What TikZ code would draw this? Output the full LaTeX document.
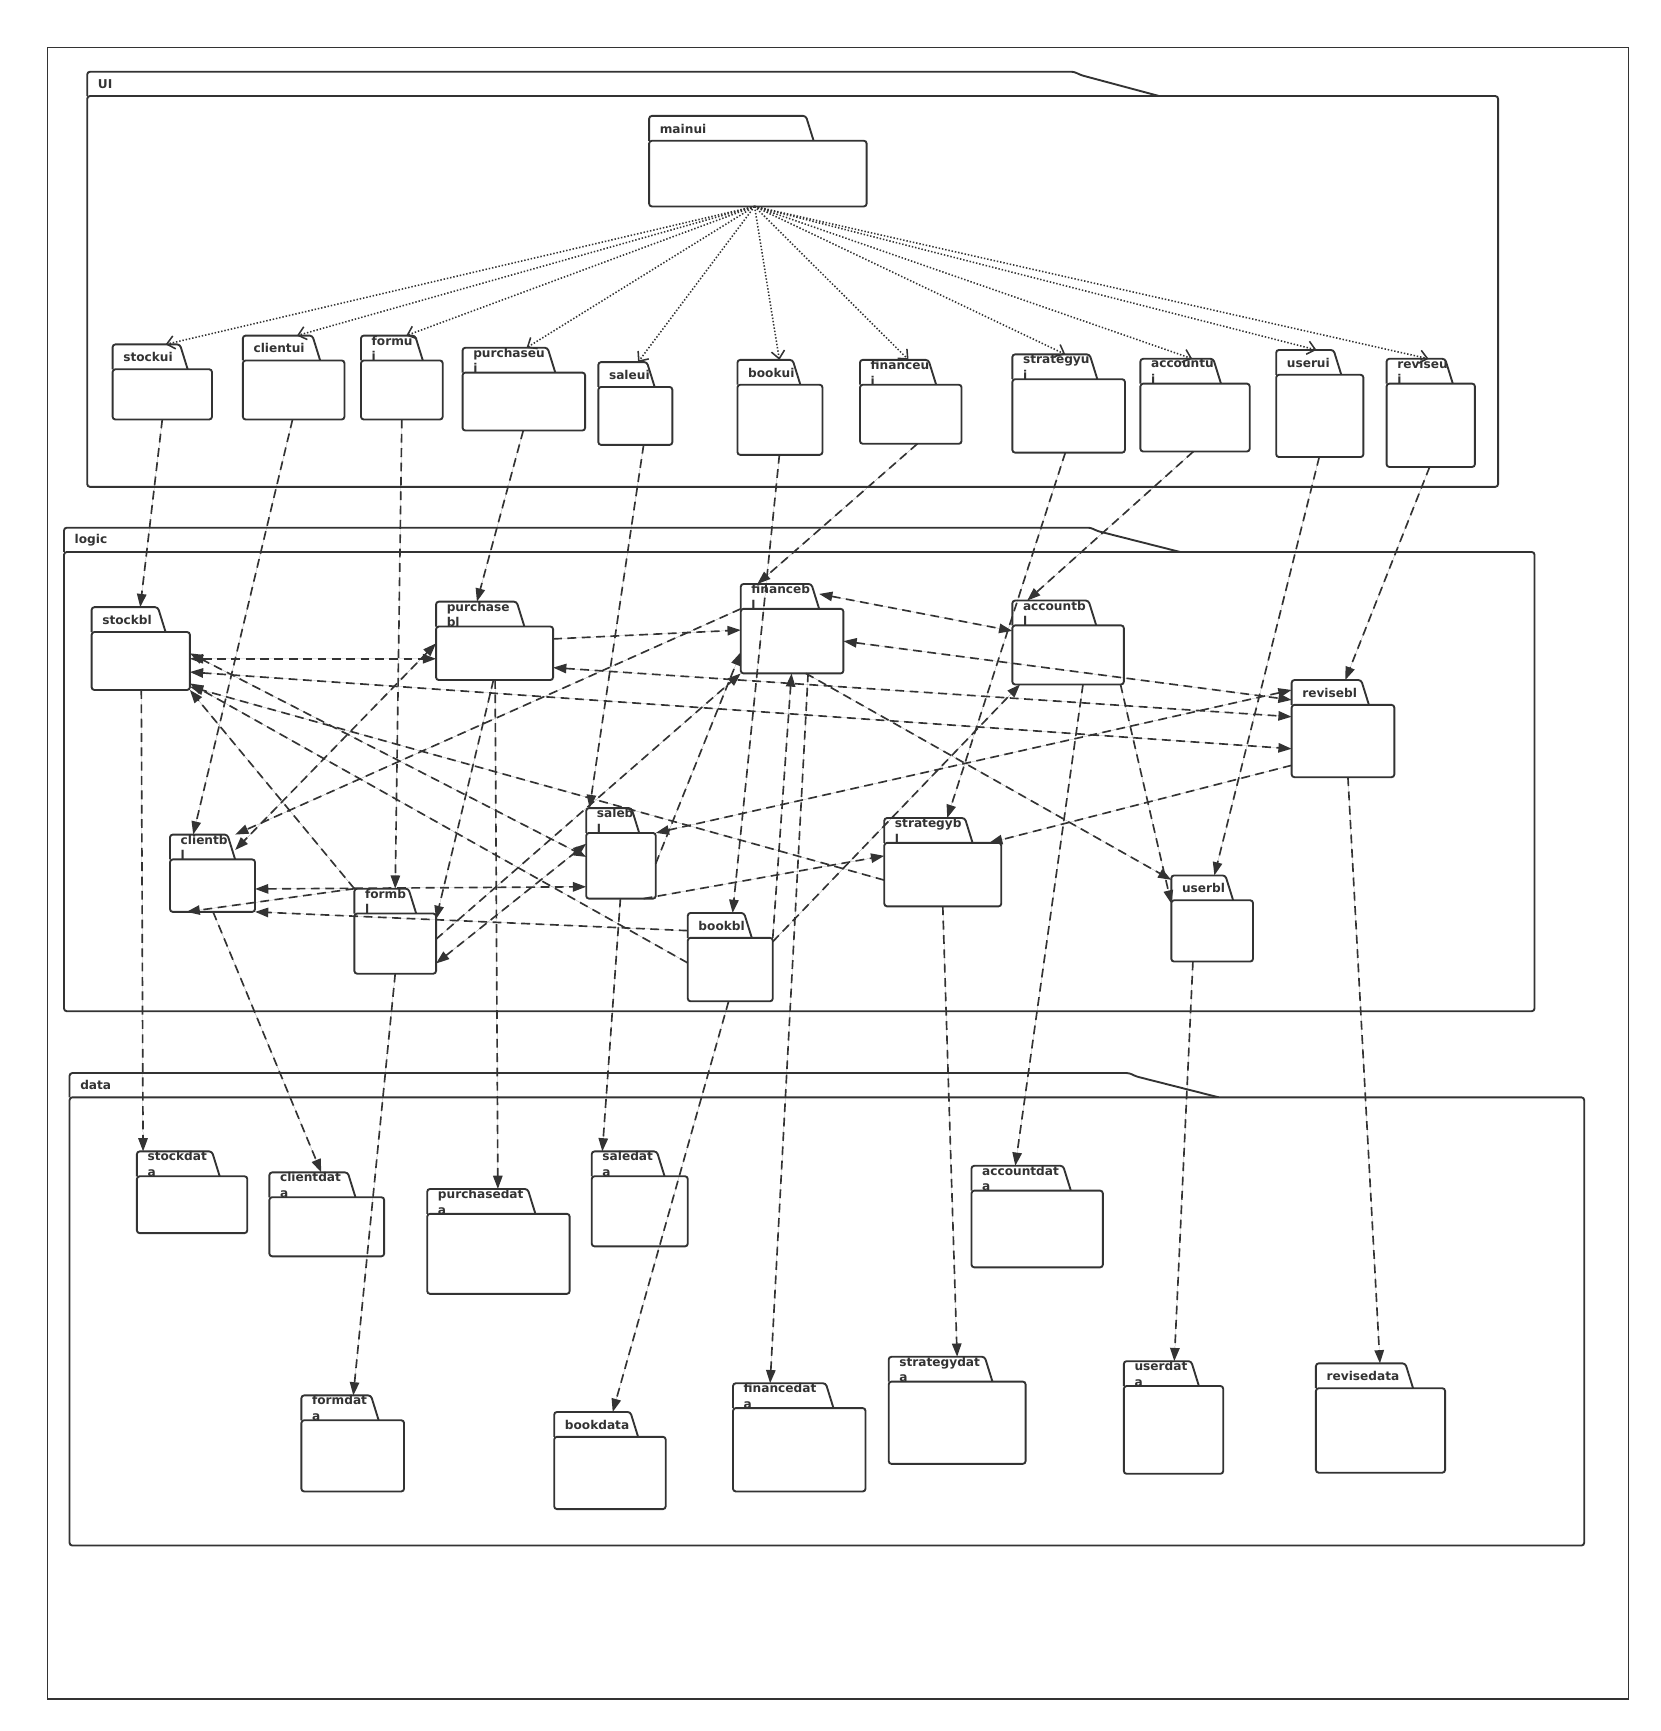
\documentclass[tikz,border=0pt]{standalone}
\usepackage{fontspec}
\setmainfont{DejaVu Sans}
\usepackage{xcolor}
\usetikzlibrary{arrows.meta}
\definecolor{ink}{HTML}{333333}

% package: name, label, left, tab top, tab right, right, bottom
\newcommand{\umlpkg}[7]{%
  \node[tabbox, minimum width={(#5-#3)*1pt}, anchor=north west] (#1-tab) at (#3,#4) {};
  \draw[pkgline, fill=white] (#1-tab.south west) -- (#1-tab.north west)
    -- ([xshift=-7pt]#1-tab.north east) -- (#1-tab.south east);
  \node[pkglabel] (#1-label) at (#3+9.5,#4+11.5) {#2};
  \node[pkgbody, minimum width={(#6-#3)*1pt}, minimum height={(#7-#4-22.5)*1pt},
    anchor=north west] (#1) at (#3,#4+22.5) {};
}
% layer: name, label, left, tab top, tab end, slant end, right, bottom
\newcommand{\layerpkg}[8]{%
  \draw[pkgline, fill=white] (#3,#4+22) -- (#3,#4) -- (#5,#4) -- (#5+6,#4+3) -- (#6,#4+22);
  \node[pkglabel] (#1-label) at (#3+9.5,#4+11) {#2};
  \node[pkgbody, minimum width={(#7-#3)*1pt}, minimum height={(#8-#4-22)*1pt},
    anchor=north west] (#1) at (#3,#4+22) {};
}

\begin{document}
\begin{tikzpicture}[
    x=1pt, y=-1pt,
    >={Triangle[length=12pt,width=8.5pt]},
    pkgline/.style={draw=ink, line width=1.7pt, rounded corners=2.5pt},
    pkgbody/.style={pkgline, fill=white, rectangle, inner sep=0pt, outer sep=0pt},
    tabbox/.style={rectangle, inner sep=0pt, outer sep=0pt, minimum height=22.5pt},
    pkglabel/.style={anchor=west, inner sep=0pt, align=left, text=ink,
      font=\fontsize{11}{14.2}\selectfont\bfseries},
    dep/.style={draw=ink, fill=ink, line width=1.5pt, dash pattern=on 8pt off 5pt},
    use/.style={draw=ink, line width=1.4pt, dash pattern=on 1.3pt off 1.7pt,
      -{Straight Barb[length=7pt,width=12pt]}}
  ]
  \fill[white] (0,0) rectangle (1504,1568);
  \useasboundingbox (0,0) rectangle (1504,1568);
  % frame
  \draw[ink, line width=1.5pt] (43,43) rectangle (1475,1539);
  % layers
  \layerpkg{ui}{UI}{79}{65}{973}{1050}{1357}{441}
  \layerpkg{logic}{logic}{58}{478}{988}{1069}{1390}{916}
  \layerpkg{data}{data}{63}{972}{1023}{1104}{1435}{1400}
  % ui packages
  \umlpkg{mainui}{mainui}{588}{105}{737}{785}{187}
  \umlpkg{stockui}{stockui}{102}{312}{170}{192}{380}
  \umlpkg{clientui}{clientui}{220}{304}{290}{312}{380}
  \umlpkg{formui}{formu\\i}{327}{304}{383}{401}{380}
  \umlpkg{purchaseui}{purchaseu\\i}{419}{315}{503}{530}{390}
  \umlpkg{saleui}{saleui}{542}{328}{593}{609}{403}
  \umlpkg{bookui}{bookui}{668}{326}{725}{745}{412}
  \umlpkg{financeui}{financeu\\i}{779}{326}{848}{871}{402}
  \umlpkg{strategyui}{strategyu\\i}{917}{321}{994}{1019}{410}
  \umlpkg{accountui}{accountu\\i}{1033}{325}{1106}{1132}{409}
  \umlpkg{userui}{userui}{1156}{317}{1215}{1235}{414}
  \umlpkg{reviseui}{reviseu\\i}{1256}{325}{1316}{1336}{423}
  % logic packages
  \umlpkg{stockbl}{stockbl}{83}{550}{150}{172}{625}
  \umlpkg{purchasebl}{purchase\\bl}{395}{545}{475}{501}{616}
  \umlpkg{financebl}{financeb\\l}{671}{529}{742}{764}{610}
  \umlpkg{accountbl}{accountb\\l}{917}{544}{993}{1018}{620}
  \umlpkg{revisebl}{revisebl}{1170}{616}{1240}{1263}{704}
  \umlpkg{clientbl}{clientb\\l}{154}{756}{213}{231}{826}
  \umlpkg{formbl}{formb\\l}{321}{805}{377}{395}{882}
  \umlpkg{salebl}{saleb\\l}{531}{732}{579}{594}{814}
  \umlpkg{bookbl}{bookbl}{623}{827}{681}{700}{907}
  \umlpkg{strategybl}{strategyb\\l}{801}{741}{881}{907}{821}
  \umlpkg{userbl}{userbl}{1061}{793}{1117}{1135}{871}
  % data packages
  \umlpkg{stockdata}{stockdat\\a}{124}{1043}{199}{224}{1117}
  \umlpkg{clientdata}{clientdat\\a}{244}{1062}{322}{348}{1138}
  \umlpkg{purchasedata}{purchasedat\\a}{387}{1077}{485}{516}{1172}
  \umlpkg{saledata}{saledat\\a}{536}{1043}{602}{623}{1129}
  \umlpkg{accountdata}{accountdat\\a}{880}{1056}{970}{999}{1148}
  \umlpkg{formdata}{formdat\\a}{273}{1264}{343}{366}{1351}
  \umlpkg{bookdata}{bookdata}{502}{1279}{578}{603}{1367}
  \umlpkg{financedata}{financedat\\a}{664}{1253}{755}{784}{1351}
  \umlpkg{strategydata}{strategydat\\a}{805}{1229}{899}{929}{1326}
  \umlpkg{userdata}{userdat\\a}{1018}{1233}{1086}{1108}{1335}
  \umlpkg{revisedata}{revisedata}{1192}{1235}{1280}{1309}{1334}
  % mainui uses every ui package
  \foreach \p/\dx in {stockui/48, clientui/49, formui/41, purchaseui/58, saleui/36,
      bookui/38, financeui/44, strategyui/48, accountui/47, userui/36.5, reviseui/38}
    \draw[use] ([xshift=-3pt]mainui.south) -- ([xshift=\dx pt]\p-tab.north west);
  % ui -> logic
  \foreach \a/\sx/\b/\tx in {stockui/45/stockbl/44, clientui/45/clientbl/21,
      formui/37/formbl/37, purchaseui/55/purchasebl/37, saleui/41/salebl/3,
      bookui/38/bookbl/40.6, financeui/52/financebl/15, strategyui/48/strategybl/57,
      accountui/48/accountbl/13.5, userui/39/userbl/39, reviseui/39/revisebl/48.6}
    \draw[dep,->] ([xshift=\sx pt]\a.south west) -- ([xshift=\tx pt]\b-tab.north west);
  % logic -> data
  \foreach \a/\sx/\b/\tx in {stockbl/45/stockdata/5.6, clientbl/39/clientdata/47,
      formbl/37/formdata/47, purchasebl/53.5/purchasedata/64, salebl/31/saledata/9.6,
      bookbl/37/bookdata/53, financebl/61/financedata/33.6, strategybl/53/strategydata/62,
      accountbl/64/accountdata/39.7, userbl/19.6/userdata/45.7, revisebl/51/revisedata/58}
    \draw[dep,->] ([xshift=\sx pt]\a.south west) -- ([xshift=\tx pt]\b-tab.north west);
  % logic: two-way links
  \draw[dep,<->] ([yshift=2pt]stockbl.east) -- ([yshift=-5pt]purchasebl.west);
  \draw[dep,<->] ([yshift=-9pt]financebl-tab.north east) -- ([yshift=-5pt]accountbl.north west);
  \draw[dep,<->] (financebl.east) -- ([yshift=-18pt]revisebl-tab.north west);
  \draw[dep,<->] ([yshift=-13pt]purchasebl.east) -- ([yshift=22pt]revisebl.west);
  \draw[dep,<->] ([yshift=-10pt]stockbl.east) -- ([yshift=-7pt]revisebl.west);
  \draw[dep,<->] (salebl.north east) -- ([yshift=-9pt]revisebl-tab.north west);
  \draw[dep,<->] ([yshift=7pt]stockbl.east) -- ([yshift=8pt]salebl.west);
  \draw[dep,<->] ([yshift=-3pt]clientbl.east) -- ([yshift=-19pt]salebl.west);
  \draw[dep,<->] ([yshift=9pt]purchasebl.west) -- ([yshift=-14pt]clientbl-tab.north east);
  \draw[dep,<->] ([yshift=20pt]salebl.west) -- ([yshift=-18pt]formbl.east);
  % logic: one-way links
  \draw[dep,->] ([yshift=13pt]purchasebl.east) -- ([yshift=10pt]financebl.west);
  \draw[dep,->] ([yshift=-22pt]revisebl.west) -- ([xshift=-11pt]strategybl.north east);
  \draw[dep,->] ([xshift=-34pt]financebl.south east) -- ([yshift=-4pt]userbl-tab.north west);
  \draw[dep,->] ([xshift=-3pt]accountbl.south east) -- ([yshift=-3pt]userbl.north west);
  \draw[dep,->] ([yshift=-3.5pt]bookbl.north east) -- ([xshift=7pt]accountbl.south west);
  \draw[dep,->] ([xshift=-11pt]salebl.south east) -- ([yshift=17pt]strategybl.west);
  \draw[dep,->] (bookbl.north east) -- ([xshift=46pt]financebl.south west);
  \draw[dep,->] (formbl-tab.north west) -- (stockbl.south east);
  \draw[dep,->] ([yshift=-5pt]strategybl.west) -- ([yshift=3pt]stockbl.south east);
  \draw[dep,->] ([yshift=6pt]bookbl.west) -- ([yshift=6pt]stockbl.south east);
  \draw[dep,->] ([yshift=-16pt]bookbl-tab.north west) -- (clientbl.south east);
  \draw[dep,->] (financebl.north west) -- (clientbl-tab.north east);
  \draw[dep,->] ([yshift=4pt]formbl.east) -- (financebl.south west);
  \draw[dep,->] ([xshift=52pt]purchasebl.south west) -- ([yshift=-5pt]formbl.north east);
  \draw[dep,->] (formbl-tab.north west) -- ([xshift=15pt]clientbl.south west);
  \draw[dep,->] ([yshift=2pt]salebl.east) -- ([yshift=-10pt]financebl.west);
\end{tikzpicture}
\end{document}
